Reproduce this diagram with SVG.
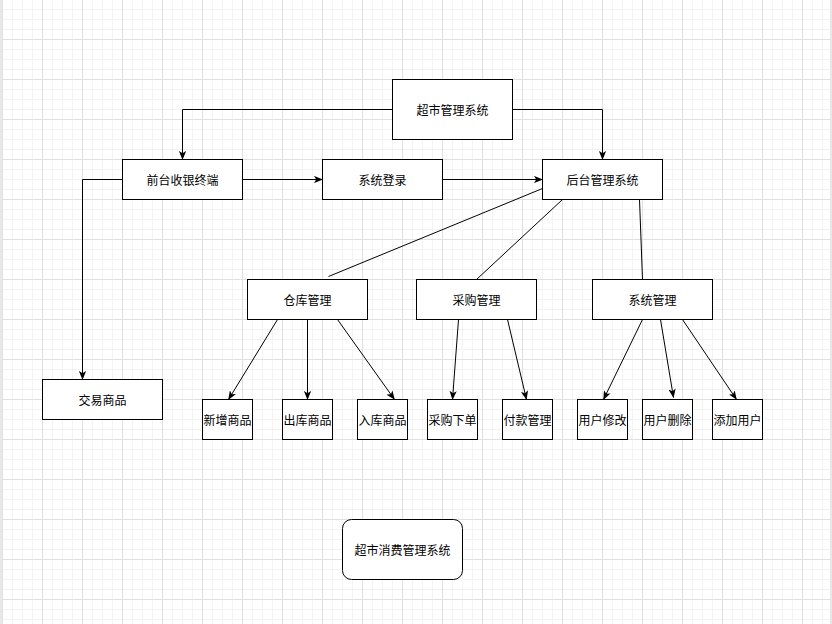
<svg xmlns="http://www.w3.org/2000/svg" width="832" height="624" viewBox="0 0 832 624">
<defs>
<pattern id="grid" x="2" y="-1" width="40" height="40" patternUnits="userSpaceOnUse">
<path d="M10.5 0V40M20.5 0V40M30.5 0V40M0 10.5H40M0 20.5H40M0 30.5H40" stroke="#f3f3f3" stroke-width="1" fill="none"/>
<path d="M0.5 0V40M0 0.5H40" stroke="#e0e0e0" stroke-width="1" fill="none"/>
</pattern>
<marker id="arr" viewBox="0 0 10 8" refX="9.5" refY="4" markerWidth="9" markerHeight="7.5" markerUnits="userSpaceOnUse" orient="auto">
<path d="M0,0 L10,4 L0,8 L2.5,4 Z" fill="#000"/>
</marker>
<style>
.n{fill:#fff;stroke:#000;stroke-width:1}
.t{font-family:"Noto Sans CJK SC","Noto Sans",sans-serif;font-size:12px;fill:#000;text-anchor:middle;dominant-baseline:central}
.e{fill:none;stroke:#000;stroke-width:1}
.a{marker-end:url(#arr)}
</style>
</defs>
<rect x="0" y="0" width="832" height="624" fill="#fff"/>
<rect x="2" y="0" width="828" height="624" fill="url(#grid)"/>
<rect x="0" y="0" width="2" height="624" fill="#e8e8e8"/>
<rect x="830" y="0" width="2" height="624" fill="#e8e8e8"/>
<g id="connectors">
<path class="e a" d="M392.5 109.5H182.5V159.5"/>
<path class="e a" d="M512.5 109.5H602.5V159.5"/>
<path class="e a" d="M242.5 179.5H322.5"/>
<path class="e a" d="M442.5 179.5H542.5"/>
<path class="e a" d="M122.5 179.5H82.5V379.5"/>
<path class="e" d="M542.5 188.5L328.5 276.5"/>
<path class="e" d="M562.5 199.5L476.5 279.5"/>
<path class="e" d="M639.5 199.5L642.5 279.5"/>
<path class="e a" d="M277.5 319.5L228.5 399.5"/>
<path class="e a" d="M307.5 319.5V399.5"/>
<path class="e a" d="M337.5 319.5L394.5 399.5"/>
<path class="e a" d="M458.5 319.5L452.5 399.5"/>
<path class="e a" d="M507.5 319.5L526.5 399.5"/>
<path class="e a" d="M642.5 319.5L603.5 399.5"/>
<path class="e a" d="M660.5 319.5L673.5 397.5"/>
<path class="e a" d="M682.5 319.5L736.5 399.5"/>
</g>
<g id="n-root"><rect class="n" x="392.5" y="79.5" width="120" height="60"/><text class="t" x="452.5" y="109.5">超市管理系统</text></g>
<g id="n-front"><rect class="n" x="122.5" y="159.5" width="120" height="40"/><text class="t" x="182.5" y="179.5">前台收银终端</text></g>
<g id="n-login"><rect class="n" x="322.5" y="159.5" width="120" height="40"/><text class="t" x="382.5" y="179.5">系统登录</text></g>
<g id="n-back"><rect class="n" x="542.5" y="159.5" width="120" height="40"/><text class="t" x="602.5" y="179.5">后台管理系统</text></g>
<g id="n-trade"><rect class="n" x="42.5" y="379.5" width="120" height="40"/><text class="t" x="102.5" y="399.5">交易商品</text></g>
<g id="n-store"><rect class="n" x="247.5" y="279.5" width="120" height="40"/><text class="t" x="307.5" y="299.5">仓库管理</text></g>
<g id="n-buy"><rect class="n" x="416.5" y="279.5" width="120" height="40"/><text class="t" x="476.5" y="299.5">采购管理</text></g>
<g id="n-sys"><rect class="n" x="592.5" y="279.5" width="120" height="40"/><text class="t" x="652.5" y="299.5">系统管理</text></g>
<g id="n-add"><rect class="n" x="202.5" y="399.5" width="50" height="40"/><text class="t" x="227.5" y="419.5">新增商品</text></g>
<g id="n-out"><rect class="n" x="282.5" y="399.5" width="50" height="40"/><text class="t" x="307.5" y="419.5">出库商品</text></g>
<g id="n-in"><rect class="n" x="357.5" y="399.5" width="50" height="40"/><text class="t" x="382.5" y="419.5">入库商品</text></g>
<g id="n-order"><rect class="n" x="427.5" y="399.5" width="50" height="40"/><text class="t" x="452.5" y="419.5">采购下单</text></g>
<g id="n-pay"><rect class="n" x="502.5" y="399.5" width="50" height="40"/><text class="t" x="527.5" y="419.5">付款管理</text></g>
<g id="n-umod"><rect class="n" x="577.5" y="399.5" width="50" height="40"/><text class="t" x="602.5" y="419.5">用户修改</text></g>
<g id="n-udel"><rect class="n" x="642.5" y="399.5" width="50" height="40"/><text class="t" x="667.5" y="419.5">用户删除</text></g>
<g id="n-uadd"><rect class="n" x="712.5" y="399.5" width="50" height="40"/><text class="t" x="737.5" y="419.5">添加用户</text></g>
<g id="n-title"><rect class="n" x="342.5" y="519.5" width="120" height="60" rx="9" ry="9"/><text class="t" x="402.5" y="549.5">超市消费管理系统</text></g>
</svg>
